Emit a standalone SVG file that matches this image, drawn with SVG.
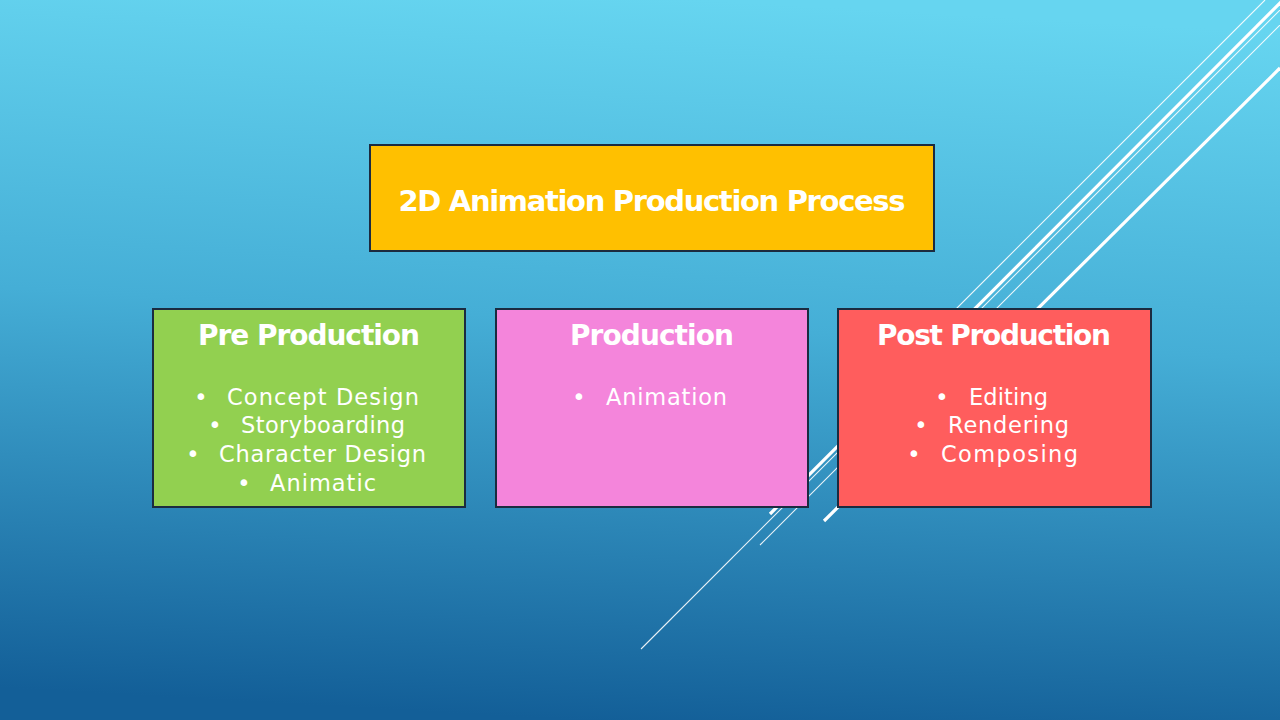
<svg xmlns="http://www.w3.org/2000/svg" width="1280" height="720" viewBox="0 0 1280 720">
  <defs>
    <linearGradient id="bg" x1="0.55" y1="0" x2="0.45" y2="1">
      <stop offset="0" stop-color="#66D5F0"/>
      <stop offset="0.45" stop-color="#45AED6"/>
      <stop offset="1" stop-color="#135F98"/>
    </linearGradient>
    <style>
      .box { stroke: #1B2B40; stroke-width: 2; }
      .thin { stroke: #FFFFFF; stroke-width: 1.1; stroke-opacity: 0.9; fill: none; }
      .thick { stroke: #FFFFFF; stroke-width: 3.2; fill: none; }
      .title { font-family: "DejaVu Sans", "Liberation Sans", sans-serif; font-weight: bold; fill: #FFFFFF; }
      .head { font-size: 28px; }
      .item { font-family: "DejaVu Sans", "Liberation Sans", sans-serif; font-size: 22.5px; fill: #FFFFFF; }
    </style>
  </defs>
  <rect x="0" y="0" width="1280" height="720" fill="url(#bg)"/>

  <g id="connectors">
    <line class="thin" x1="1265" y1="0" x2="900" y2="365"/>
    <line class="thick" x1="1283" y1="0" x2="770" y2="514"/>
    <line class="thin" x1="1290" y1="0" x2="641" y2="649"/>
    <line class="thin" x1="1305" y1="0" x2="760" y2="545"/>
    <line class="thick" x1="1280" y1="68" x2="824" y2="521"/>
  </g>

  <g id="node-title">
    <rect class="box" x="370" y="145" width="564" height="106" fill="#FFC000"/>
    <text class="title" x="652" y="211" font-size="29" text-anchor="middle" textLength="507">2D Animation Production Process</text>
  </g>

  <g id="node-pre">
    <rect class="box" x="153" y="309" width="312" height="198" fill="#92D050"/>
    <text class="title head" x="309" y="345" text-anchor="middle" textLength="222">Pre Production</text>
    <text class="item" x="201" y="405" text-anchor="middle">•</text>
    <text class="item" x="227" y="405" textLength="192">Concept Design</text>
    <text class="item" x="215" y="433" text-anchor="middle">•</text>
    <text class="item" x="241" y="433" textLength="164">Storyboarding</text>
    <text class="item" x="193" y="462" text-anchor="middle">•</text>
    <text class="item" x="219" y="462" textLength="207">Character Design</text>
    <text class="item" x="244" y="491" text-anchor="middle">•</text>
    <text class="item" x="270" y="491" textLength="106">Animatic</text>
  </g>

  <g id="node-production">
    <rect class="box" x="496" y="309" width="312" height="198" fill="#F485DB"/>
    <text class="title head" x="652" y="345" text-anchor="middle" textLength="164">Production</text>
    <text class="item" x="579" y="405" text-anchor="middle">•</text>
    <text class="item" x="606" y="405" textLength="121">Animation</text>
  </g>

  <g id="node-post">
    <rect class="box" x="838" y="309" width="313" height="198" fill="#FF5D5D"/>
    <text class="title head" x="994" y="345" text-anchor="middle" textLength="234">Post Production</text>
    <text class="item" x="942" y="405" text-anchor="middle">•</text>
    <text class="item" x="969" y="405" textLength="79">Editing</text>
    <text class="item" x="921" y="433" text-anchor="middle">•</text>
    <text class="item" x="948" y="433" textLength="121">Rendering</text>
    <text class="item" x="914" y="462" text-anchor="middle">•</text>
    <text class="item" x="941" y="462" textLength="137">Composing</text>
  </g>
</svg>
